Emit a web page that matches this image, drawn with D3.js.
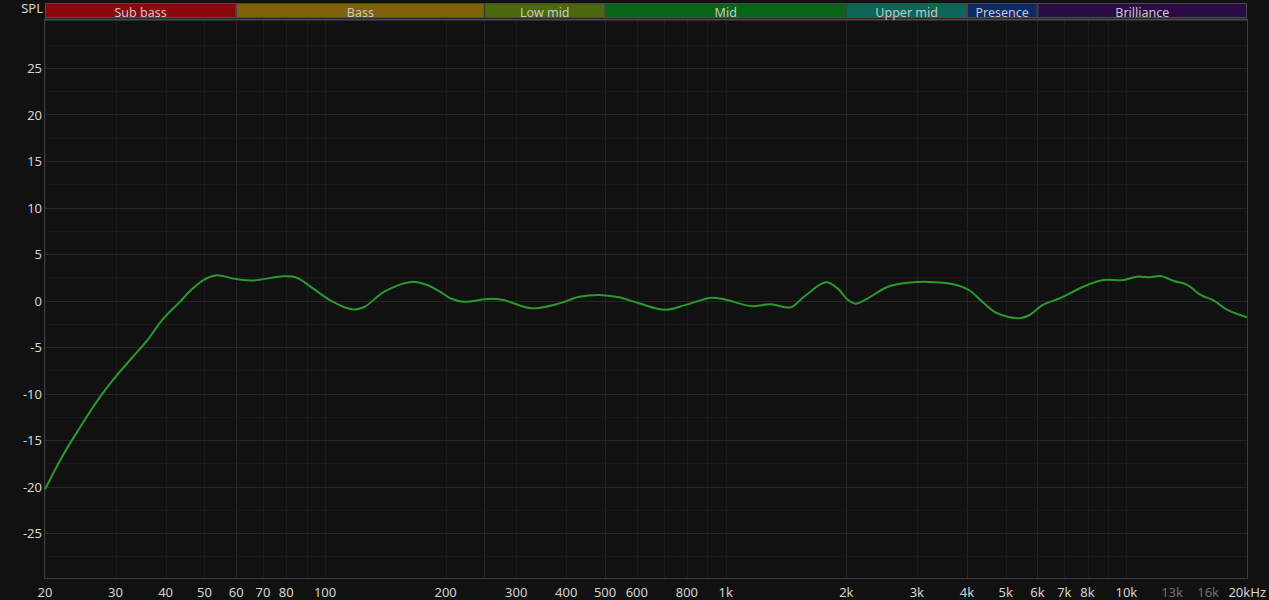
<!DOCTYPE html>
<html>
<head>
<meta charset="utf-8">
<script src="https://cdn.jsdelivr.net/npm/d3@7"></script>
<style>
  html, body { margin: 0; padding: 0; background: #111111; }
  svg { display: block; }
  text { font-family: "Noto Sans", "Open Sans", sans-serif; }
</style>
</head>
<body>
<svg id="chart" width="1269" height="600"></svg>
<script>
// ---- data ----
const freqs = [20, 22.2, 24.5, 26.9, 29.5, 32.6, 35.9, 39.2, 43.4, 46.5, 49.7, 53.2, 60.1, 66, 78.6, 85, 93.3, 102.8, 116.8, 124.9, 140.6, 163.8, 179.6, 193.6, 205.4, 221.4, 258.7, 279, 327.8, 377.9, 431, 483, 542, 607, 706, 791, 920, 992, 1155, 1295, 1453, 1568, 1777, 1902, 2013, 2110, 2262, 2541, 2856, 3209, 3674, 4044, 4370, 4721, 5404, 5730, 6188, 6823, 7801, 8760, 9835, 10625, 11472, 12156, 13130, 14180, 15313, 16537, 17860, 20000];
const spl = [-20.3, -16.6, -13.6, -10.9, -8.6, -6.4, -4.35, -2.1, -0.15, 1.2, 2.2, 2.7, 2.3, 2.15, 2.6, 2.45, 1.3, 0.05, -0.95, -0.73, 0.95, 2.0, 1.67, 0.95, 0.24, -0.13, 0.2, 0.05, -0.84, -0.4, 0.4, 0.6, 0.34, -0.3, -1.0, -0.5, 0.3, 0.13, -0.6, -0.4, -0.73, 0.4, 1.95, 1.3, 0.1, -0.35, 0.24, 1.48, 1.91, 2.0, 1.77, 1.13, -0.13, -1.3, -1.91, -1.56, -0.48, 0.24, 1.48, 2.2, 2.2, 2.56, 2.5, 2.63, 2.1, 1.67, 0.6, -0.02, -1.0, -1.8];

const bandNames = ["Sub bass", "Bass", "Low mid", "Mid", "Upper mid", "Presence", "Brilliance"];
const bandEdges = [20, 60, 250, 500, 2000, 4000, 6000, 20000];
const bandColors = ["#8a0a0c", "#7f600b", "#4a6a0b", "#08651a", "#0b6658", "#0b2a66", "#2a0b45"];

const xTickValues = [20, 30, 40, 50, 60, 70, 80, 100, 200, 300, 400, 500, 600, 800, 1000, 2000, 3000, 4000, 5000, 6000, 7000, 8000, 10000, 13000, 16000, 20000];
const xTickLabels = ["20", "30", "40", "50", "60", "70", "80", "100", "200", "300", "400", "500", "600", "800", "1k", "2k", "3k", "4k", "5k", "6k", "7k", "8k", "10k", "13k", "16k", "20kHz"];
const dimTicks = ["13k", "16k"];
const yTickValues = [25, 20, 15, 10, 5, 0, -5, -10, -15, -20, -25];
const gridFreqs = [20, 30, 40, 50, 60, 70, 80, 90, 100, 200, 300, 400, 500, 600, 700, 800, 900, 1000, 2000, 3000, 4000, 5000, 6000, 7000, 8000, 9000, 10000, 20000];

// ---- layout ----
const L = 45, R = 1247, T = 19, B = 578;
const svg = d3.select("#chart");
svg.append("rect").attr("width", 1269).attr("height", 600).attr("fill", "#111111");

const x = d3.scaleLog().domain([20, 20000]).range([L, R]);
const y = d3.scaleLinear().domain([-30, 30]).range([579.5, 21.5]);

// grid
const grid = svg.append("g");
grid.selectAll("line.vg").data(gridFreqs).enter().append("line")
  .attr("x1", d => Math.round(x(d)) + 0.5).attr("x2", d => Math.round(x(d)) + 0.5)
  .attr("y1", T).attr("y2", B)
  .attr("stroke", "#1c1c1c").attr("stroke-width", 1);
grid.selectAll("line.bg").data(bandEdges.slice(1, -1)).enter().append("line")
  .attr("x1", d => Math.round(x(d)) + 0.5).attr("x2", d => Math.round(x(d)) + 0.5)
  .attr("y1", T).attr("y2", B)
  .attr("stroke", "#242424").attr("stroke-width", 1);
const minorY = d3.range(-27.5, 30, 5);
grid.selectAll("line.hm").data(minorY).enter().append("line")
  .attr("x1", L).attr("x2", R)
  .attr("y1", d => Math.round(y(d)) + 0.5).attr("y2", d => Math.round(y(d)) + 0.5)
  .attr("stroke", "#191919").attr("stroke-width", 1);
grid.selectAll("line.hg").data(yTickValues).enter().append("line")
  .attr("x1", L).attr("x2", R)
  .attr("y1", d => Math.round(y(d)) + 0.5).attr("y2", d => Math.round(y(d)) + 0.5)
  .attr("stroke", "#262626").attr("stroke-width", 1);

// plot frame
svg.append("line").attr("x1", L - 0.5).attr("x2", L - 0.5).attr("y1", T).attr("y2", B + 1).attr("stroke", "#3c3c3c");
svg.append("line").attr("x1", R + 0.5).attr("x2", R + 0.5).attr("y1", T).attr("y2", B + 1).attr("stroke", "#3c3c3c");
svg.append("line").attr("x1", L - 1).attr("x2", R + 1).attr("y1", B + 0.5).attr("y2", B + 0.5).attr("stroke", "#3c3c3c");
svg.append("line").attr("x1", L - 1).attr("x2", R + 1).attr("y1", T + 0.5).attr("y2", T + 0.5).attr("stroke", "#4a4a4a").attr("stroke-width", 2);

// band header
const bands = bandNames.map((n, i) => ({ name: n, f0: bandEdges[i], f1: bandEdges[i + 1], color: bandColors[i] }));
const bg = svg.append("g");
bg.selectAll("rect").data(bands).enter().append("rect")
  .attr("x", d => x(d.f0) + 0.5).attr("width", d => x(d.f1) - x(d.f0) - 1)
  .attr("y", 3.5).attr("height", 14)
  .attr("fill", d => d.color).attr("stroke", "#4a4a4a").attr("stroke-width", 1);
bg.selectAll("text").data(bands).enter().append("text")
  .attr("x", d => (x(d.f0) + x(d.f1)) / 2).attr("y", 12)
  .attr("text-anchor", "middle").attr("dominant-baseline", "central")
  .attr("font-size", 12.5).attr("fill", "#c8c8c8")
  .text(d => d.name);

// axes labels
const xa = svg.append("g");
xa.selectAll("text").data(xTickValues).enter().append("text")
  .attr("x", (d, i) => xTickLabels[i] === "20kHz" ? 1266 : x(d))
  .attr("y", 592)
  .attr("text-anchor", (d, i) => xTickLabels[i] === "20kHz" ? "end" : "middle")
  .attr("dominant-baseline", "central")
  .attr("font-size", 13)
  .attr("fill", (d, i) => dimTicks.includes(xTickLabels[i]) ? "#707070" : "#d4d4d4")
  .text((d, i) => xTickLabels[i]);

const ya = svg.append("g");
ya.selectAll("text").data(yTickValues).enter().append("text")
  .attr("x", 42).attr("y", d => y(d))
  .attr("text-anchor", "end").attr("dominant-baseline", "central")
  .attr("font-size", 13).attr("fill", "#d4d4d4")
  .text(d => d);
svg.append("text").attr("x", 43).attr("y", 8)
  .attr("text-anchor", "end").attr("dominant-baseline", "central")
  .attr("font-size", 13).attr("fill", "#d4d4d4").text("SPL");

// curve
const pts = freqs.map((f, i) => [f, spl[i]]);
const line = d3.line().x(d => x(d[0])).y(d => y(d[1])).curve(d3.curveCatmullRom.alpha(0.5));
svg.append("path").datum(pts).attr("d", line)
  .attr("fill", "none").attr("stroke", "#2a9a2e").attr("stroke-width", 2);
</script>
</body>
</html>
